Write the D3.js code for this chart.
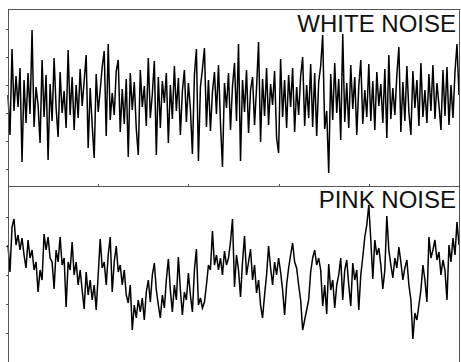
<!DOCTYPE html>
<html>
<head>
<meta charset="utf-8">
<script src="https://cdn.jsdelivr.net/npm/d3@7"></script>
<style>
  body { margin: 0; background: #fff; }
  svg { display: block; }
  .frame { stroke: #555; stroke-width: 1; fill: none; shape-rendering: crispEdges; }
  .axis line { stroke: #555; shape-rendering: crispEdges; }
  .axis path { display: none; }
  .trace { fill: none; stroke: #000; stroke-width: 1.5; stroke-linejoin: miter; }
  .label { font-family: "Liberation Sans", Arial, sans-serif; font-size: 24px; fill: #111; }
</style>
</head>
<body>
<svg id="noise" width="461" height="362"></svg>
<script>
// panel titles
var titles = ["WHITE NOISE", "PINK NOISE"];

// white noise samples
var whiteNoise = [
  0.4, -3.6, 5.0, -1.2, 2.3, -0.8, 3.1, -6.3, 1.9, -2.4,
  2.6, -1.5, 6.9, -2.8, 1.2, -0.6, -4.4, 3.9, -1.8, 2.4,
  -6.1, 1.5, -2.2, 4.1, -0.9, -3.8, 2.7, -1.4, 0.8, -2.9,
  4.9, -1.6, 2.2, -3.1, 1.4, -1.9, 3.0, -0.7, 1.8, 4.4,
  -4.9, 1.1, -2.6, -5.9, 2.5, -1.3, 0.9, 3.2, 4.8, -3.7,
  5.5, -2.1, 0.6, -1.6, 2.8, 3.9, -3.3, 1.0, -2.5, 2.0,
  -5.8, 2.6, -1.1, 1.7, -3.0, -5.6, 2.9, -0.8, 1.3, -2.7,
  4.1, -1.9, 0.5, 3.8, -5.6, 2.2, -2.9, 1.8, -0.4, 2.6,
  -4.4, 1.4, -2.0, 3.3, -1.2, 2.1, -3.6, 0.8, 2.9, -2.3,
  1.6, -1.0, -5.5, 2.4, 5.0, -6.2, 1.2, 3.0, 5.1, -2.8,
  1.9, -3.2, 0.7, 2.7, -1.5, 3.4, -2.4, -6.8, 1.6, -0.9,
  2.6, -3.1, 1.3, 3.6, -2.2, 5.5, -6.2, 1.9, -1.3, 2.9,
  -3.4, 0.9, 2.2, -2.6, 1.1, 5.7, -4.3, 2.0, -1.7, 3.1,
  -2.6, 1.5, -0.6, 2.8, -3.9, -5.4, 4.0, -1.8, 1.9, -2.9,
  2.4, -0.8, 3.1, -3.3, 1.2, -1.6, 2.3, 4.2, -2.7, 1.4,
  -1.9, 3.5, -2.8, 2.6, -3.7, 1.7, 3.3, 6.4, -3.0, -1.2,
  -7.4, 2.5, -2.1, 3.6, -1.4, 2.0, -4.1, 6.5, -2.3, 1.6,
  -2.9, 3.4, -1.0, 2.2, -3.6, 1.3, 3.9, -2.5, 0.9, -1.8,
  3.5, -2.2, 1.8, -3.1, 2.7, -0.7, 1.5, -2.4, 3.0, -3.9,
  4.4, -2.0, 1.1, -1.6, 2.4, 5.2, -3.3, 1.7, -2.2, 3.3,
  -1.3, -3.6, 2.8, -0.9, 1.9, -2.7, 3.6, -1.8, 0.9, -2.4,
  2.5, -1.2, 3.4, -2.0, 1.6, -0.6, -3.1, 2.9, -1.7, 3.2,
  -2.6, 1.4, -1.9, 2.7, 5.5, 0.4
];

// pink noise samples
var pinkNoise = [
  3.0, 0.3, 4.8, 5.6, 3.0, 4.0, 2.5, 3.7, 2.0, 0.7,
  3.5, 1.7, 2.5, 0.5, 1.3, -1.7, 0.5, -0.5, 4.1, 2.5,
  3.8, 1.7, 1.3, -1.4, 2.5, 1.3, 3.8, 1.0, 1.7, -3.2,
  1.3, 0.5, 3.3, 0.0, 1.3, -1.0, 0.5, -1.5, -3.4, 0.3,
  -2.0, -0.5, -2.5, -1.0, -3.5, 0.0, 3.6, 0.7, 1.3, -1.0,
  2.0, 3.8, -1.7, 1.3, 2.9, 0.3, 1.0, -1.0, 0.5, -2.0,
  -2.8, -1.0, -5.5, -3.0, -4.3, -2.5, -3.7, -2.3, -4.5, -1.7,
  -0.5, -2.7, 0.0, 1.2, -1.5, -3.0, -4.3, -2.0, -3.3, -0.5,
  1.6, -1.5, -3.7, -1.0, -2.5, 1.8, -1.5, -4.0, -1.7, -2.5,
  0.2, -2.0, -3.7, 0.5, 2.6, -3.0, -2.3, -3.3, -2.7, -1.0,
  1.0, 0.5, 4.4, 1.0, 2.0, 0.5, 1.7, 0.0, 2.4, 1.0,
  1.7, 3.3, 5.6, -1.2, 2.0, 0.5, -2.2, 1.3, 3.9, 0.0,
  1.3, 2.6, -0.5, 1.0, -1.8, -0.5, -3.0, -4.3, -2.0, 0.0,
  2.9, 0.7, -1.0, 1.3, 0.0, 1.7, 0.3, -1.5, -4.0, -1.0,
  0.7, 2.0, 3.2, 1.3, 0.7, -1.0, -2.5, -5.5, -4.5, -3.5,
  -2.5, 0.3, 1.7, 2.5, 1.0, 1.7, 0.5, -3.1, -1.0, -3.9,
  1.1, -1.5, -0.5, -3.3, -1.0, 0.0, 1.7, -2.5, 0.5, 1.5,
  -1.0, -3.1, 1.2, -0.5, 0.5, -3.5, 0.0, 1.8, 3.8, 5.0,
  7.0, 3.5, -0.4, 3.5, 2.0, 2.7, 1.0, -1.4, 0.5, 5.9,
  2.5, 1.0, -0.3, 1.7, 0.7, 2.8, 1.3, -0.5, 0.7, 1.5,
  -1.0, -2.5, -6.4, -3.8, -4.5, -3.0, -1.5, 1.0, -0.5, -2.7,
  3.8, 1.7, 2.5, 3.5, 1.5, 2.3, 0.0, 1.5, 0.5, -2.5,
  3.0, 1.3, 3.7, 2.0, 5.3, 3.0
];

// unlabeled tick marks
var whiteTicks = [7, 4.2, 1.4, -1.4, -4.2, -7];
var pinkTicks = [5.8, 2.9, 0, -2.9, -5.8];
var sampleTicks = [45, 90, 135, 180];

var svg = d3.select("#noise"),
    margin = {top: 9, right: 2, bottom: 0, left: 8},
    width = +svg.attr("width") - margin.left - margin.right,
    height = +svg.attr("height") - margin.top - margin.bottom,
    split = 186 - margin.top;

var x = d3.scaleLinear().domain([0, whiteNoise.length - 1]).range([0, width]);
var yWhite = d3.scaleLinear().domain([-8.7, 9.0]).range([split, 0]);
var yPink = d3.scaleLinear().domain([-8.7, 8.9]).range([height, split]);

var g = svg.append("g")
    .attr("transform", "translate(" + margin.left + "," + margin.top + ")");

// titles underneath the traces
g.selectAll(".label")
    .data(titles)
    .enter().append("text")
    .attr("class", "label")
    .attr("text-anchor", "end")
    .attr("x", width - 3)
    .attr("y", function(d, i) { return i == 0 ? 23 : split + 22; })
    .text(function(d) { return d; });

g.append("g")
    .attr("class", "axis")
    .call(d3.axisLeft(yWhite).tickValues(whiteTicks).tickSize(2).tickFormat(""));

g.append("g")
    .attr("class", "axis")
    .call(d3.axisLeft(yPink).tickValues(pinkTicks).tickSize(2).tickFormat(""));

g.append("g")
    .attr("class", "axis")
    .attr("transform", "translate(0," + split + ")")
    .call(d3.axisTop(x).tickValues(sampleTicks).tickSize(2).tickFormat(""));

var lineWhite = d3.line()
    .x(function(d, i) { return x(i); })
    .y(function(d) { return yWhite(d); });

var linePink = d3.line()
    .x(function(d, i) { return x(i); })
    .y(function(d) { return yPink(d); });

g.append("path").datum(whiteNoise).attr("class", "trace").attr("d", lineWhite);
g.append("path").datum(pinkNoise).attr("class", "trace").attr("d", linePink);

// frame: left, top, right and the divider
g.append("path")
    .attr("class", "frame")
    .attr("d", "M0.5," + (height + 1) + "V0.5H" + (width + 0.5) + "V" + (height + 1));

g.append("line")
    .attr("class", "frame")
    .attr("x1", 0).attr("x2", width)
    .attr("y1", split + 0.5).attr("y2", split + 0.5);
</script>
</body>
</html>
